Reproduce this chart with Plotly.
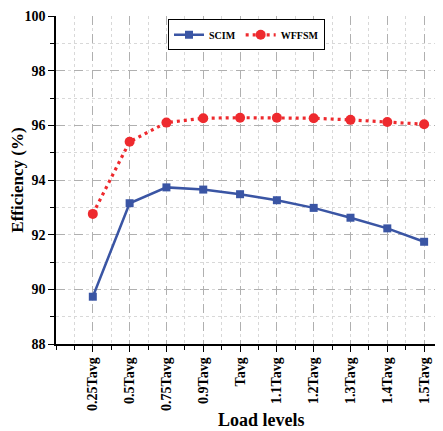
import plotly.graph_objects as go

categories = ["0.25Tavg", "0.5Tavg", "0.75Tavg", "0.9Tavg", "Tavg",
              "1.1Tavg", "1.2Tavg", "1.3Tavg", "1.4Tavg", "1.5Tavg"]
scim = [89.73, 93.15, 93.73, 93.65, 93.48, 93.26, 92.98, 92.62, 92.23, 91.74]
wffsm = [92.76, 95.40, 96.10, 96.26, 96.28, 96.28, 96.26, 96.20, 96.12, 96.04]
y_ticks = [88, 90, 92, 94, 96, 98, 100]

xidx = list(range(len(categories)))
FONT = "Times New Roman, Liberation Serif, serif"

fig = go.Figure()
fig.add_trace(go.Scatter(
    x=xidx, y=scim, name="<b>SCIM</b>", mode="lines+markers",
    line=dict(color="#3a55a4", width=2.5),
    marker=dict(symbol="square", size=8, color="#3a55a4"),
))
fig.add_trace(go.Scatter(
    x=xidx, y=wffsm, name="<b>WFFSM</b>", mode="lines+markers",
    line=dict(color="#ee2a2e", width=3.2, dash="3px,4px"),
    marker=dict(symbol="circle", size=10, color="#ee2a2e"),
))

# page body has an 8px margin, so the figure is offset by 8px
fig.update_layout(
    width=435, height=423,
    margin=dict(l=48, r=6, t=8, b=87, autoexpand=False),
    paper_bgcolor="white", plot_bgcolor="white",
    font=dict(family=FONT, color="black"),
    showlegend=True,
    legend=dict(
        orientation="h", x=0.5, xanchor="center", y=0.99, yanchor="top",
        bgcolor="white", bordercolor="black", borderwidth=1,
        font=dict(family=FONT, size=10, color="black"),
        itemwidth=30, tracegroupgap=0,
    ),
    annotations=[dict(
        text="<b>Load levels</b>", xref="paper", yref="paper",
        x=0.54, y=-0.232, xanchor="center", yanchor="middle", showarrow=False,
        font=dict(family=FONT, size=18, color="black"),
    )],
)

fig.update_xaxes(
    range=[-1, 9.35], automargin=False,
    tickmode="array", tickvals=xidx, ticktext=[f"<b>{c}</b>" for c in categories],
    tickangle=-90, tickfont=dict(family=FONT, size=14, color="black"),
    ticks="outside", ticklen=6, tickwidth=1.2, tickcolor="black",
    showline=True, linecolor="black", linewidth=1.5,
    showgrid=True, gridcolor="#b0b0b0", griddash="dash", gridwidth=1,
    minor=dict(dtick=0.5, tick0=-0.5, ticks="outside", ticklen=4, tickcolor="black",
               showgrid=True, gridcolor="#d8d8d8", griddash="dot", gridwidth=1),
    zeroline=False,
)
fig.update_yaxes(
    range=[88, 100], automargin=False,
    tickmode="array", tickvals=y_ticks, ticktext=[f"<b>{v}</b>" for v in y_ticks],
    tickfont=dict(family=FONT, size=14, color="black"),
    ticks="outside", ticklen=6, tickwidth=1.2, tickcolor="black",
    showline=True, linecolor="black", linewidth=1.5,
    showgrid=True, gridcolor="#b0b0b0", griddash="dash", gridwidth=1,
    minor=dict(dtick=1, tick0=88, ticks="outside", ticklen=4, tickcolor="black",
               showgrid=True, gridcolor="#d8d8d8", griddash="dot", gridwidth=1),
    zeroline=False,
    title=dict(text="<b>Efficiency (%)</b>", font=dict(family=FONT, size=17, color="black"),
               standoff=6),
)

fig.write_html("out.html")
